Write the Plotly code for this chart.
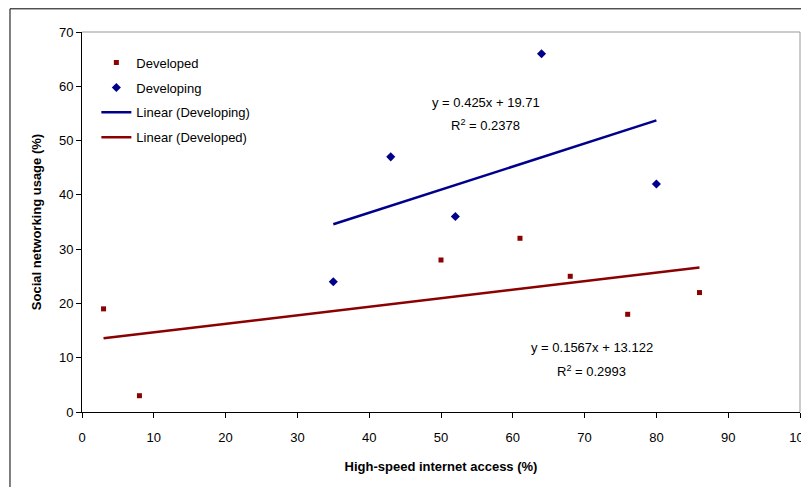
import numpy as np
import plotly.graph_objects as go

# Data
developed_x = [3, 8, 50, 61, 68, 76, 86]
developed_y = [19, 3, 28, 32, 25, 18, 22]
developing_x = [35, 43, 52, 64, 80]
developing_y = [24, 47, 36, 66, 42]

dev_slope, dev_int = 0.1567, 13.122
dvg_slope, dvg_int = 0.425, 19.71
dev_eq = ["y = 0.1567x + 13.122", "R<sup>2</sup> = 0.2993"]
dvg_eq = ["y = 0.425x + 19.71", "R<sup>2</sup> = 0.2378"]

x_ticks = list(range(0, 101, 10))
y_ticks = list(range(0, 71, 10))

RED = "#8B0000"
NAVY = "#00008B"
FONT = "Liberation Sans, Arial, sans-serif"

fig = go.Figure()
fig.add_trace(go.Scatter(x=developed_x, y=developed_y, mode="markers", name="Developed",
                         marker=dict(symbol="square", size=5, color=RED), legendgroup="a"))
fig.add_trace(go.Scatter(x=developing_x, y=developing_y, mode="markers", name="Developing",
                         marker=dict(symbol="diamond", size=7, color=NAVY), legendgroup="b"))
xd = [min(developing_x), max(developing_x)]
fig.add_trace(go.Scatter(x=xd, y=[dvg_slope * v + dvg_int for v in xd], mode="lines",
                         name="Linear (Developing)", line=dict(color=NAVY, width=2.5), legendgroup="c"))
xr = [min(developed_x), max(developed_x)]
fig.add_trace(go.Scatter(x=xr, y=[dev_slope * v + dev_int for v in xr], mode="lines",
                         name="Linear (Developed)", line=dict(color=RED, width=2.5), legendgroup="d"))

# Equation annotations
fig.add_annotation(x=56.2, y=57.1, text=dvg_eq[0], showarrow=False, font=dict(size=13, color="#000"))
fig.add_annotation(x=56.2, y=52.8, text=dvg_eq[1], showarrow=False, font=dict(size=13, color="#000"))
fig.add_annotation(x=71, y=11.8, text=dev_eq[0], showarrow=False, font=dict(size=13, color="#000"))
fig.add_annotation(x=71, y=7.6, text=dev_eq[1], showarrow=False, font=dict(size=13, color="#000"))

# Outer chart border (cropped at right/bottom)
fig.add_shape(type="rect", xref="paper", yref="paper", x0=-0.1003, x1=1.05, y0=-0.3, y1=1.061,
              line=dict(color="#000", width=1), fillcolor="rgba(0,0,0,0)", layer="below")

fig.update_layout(
    width=809, height=487,
    margin=dict(l=74, r=17, t=24, b=83),
    paper_bgcolor="white", plot_bgcolor="white",
    font=dict(family=FONT, size=13, color="#000"),
    showlegend=True,
    legend=dict(x=0.02, y=0.959, xanchor="left", yanchor="top", bgcolor="rgba(0,0,0,0)",
                font=dict(size=13), tracegroupgap=5),
    xaxis=dict(range=[0, 100], tickvals=x_ticks, ticks="outside", ticklen=5, tickcolor="#000",
               showline=True, linecolor="#000", linewidth=1, showgrid=False, zeroline=False,
               mirror=False, tickfont=dict(size=13), automargin=False, ticklabelstandoff=8,
               title=dict(text="<b>High-speed internet access (%)</b>", font=dict(size=13), standoff=18)),
    yaxis=dict(range=[0, 70], tickvals=y_ticks, ticks="outside", ticklen=5, tickcolor="#000",
               showline=True, linecolor="#000", linewidth=1, showgrid=False, zeroline=False,
               tickfont=dict(size=13), automargin=False,
               title=dict(text="<b>Social networking usage (%)</b>", font=dict(size=13), standoff=14)),
)
# gray top/right plot border
fig.add_shape(type="line", xref="paper", yref="paper", x0=0, x1=1, y0=1, y1=1, line=dict(color="#999", width=1))
fig.add_shape(type="line", xref="paper", yref="paper", x0=1, x1=1, y0=0, y1=1, line=dict(color="#999", width=1))

fig.write_html("out.html")
